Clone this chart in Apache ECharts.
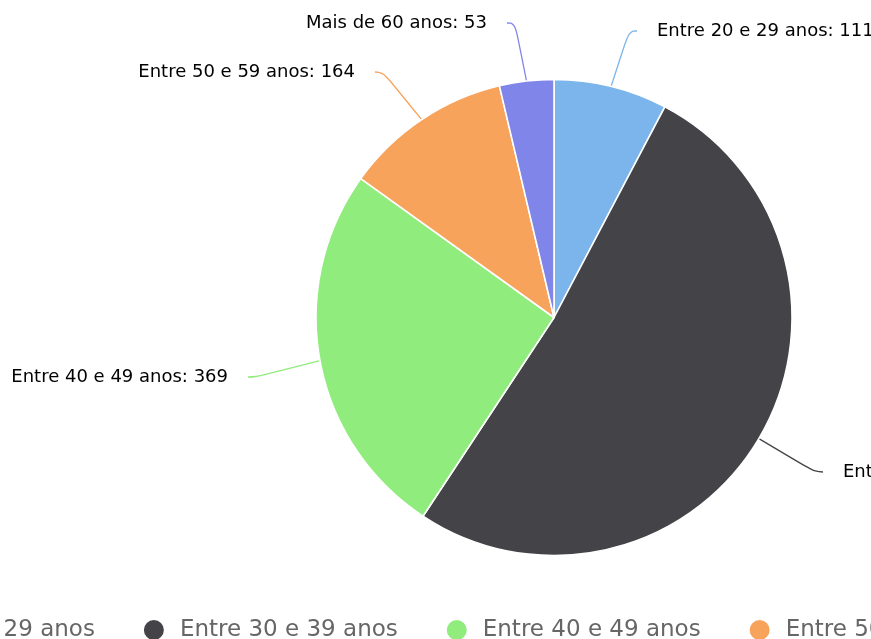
<!DOCTYPE html>
<html>
<head>
<meta charset="utf-8">
<script src="https://cdn.jsdelivr.net/npm/echarts@6/dist/echarts.min.js"></script>
<style>
html, body { margin: 0; padding: 0; overflow: hidden; background: #fff; }
#wrap { width: 871px; height: 639px; position: relative; overflow: hidden; }
/* the chart is wider than the window, shifted left like the original crop */
#faixas { position: absolute; left: -300px; top: 0; width: 1800px; height: 639px; }
</style>
</head>
<body>
<div id="wrap"><div id="faixas"></div></div>
<script>
var faixas = ['Entre 20 e 29 anos', 'Entre 30 e 39 anos', 'Entre 40 e 49 anos', 'Entre 50 e 59 anos', 'Mais de 60 anos'];
var totais = [111, 742, 369, 164, 53];
var cores = ['#7cb5ec', '#434348', '#90ed7d', '#f7a35c', '#8085e9'];

// label anchor spots, in px of the shifted div
var rotulos = [
	{x: 937, y: 31, align: 'left'},
	{x: 1123, y: 472, align: 'left'},
	{x: 548, y: 377, align: 'right'},
	{x: 675, y: 72, align: 'right'},
	{x: 807, y: 23, align: 'right'}
];

var chart = echarts.init(document.getElementById('faixas'));

var dados = faixas.map(function (nome, i) {
	return {name: nome, value: totais[i]};
});

var option = {
	animation: false,
	color: cores,
	legend: {
		left: 134,
		top: 613,
		icon: 'circle',
		itemWidth: 22,
		itemHeight: 22,
		itemGap: 47,
		textStyle: {
			fontSize: 23,
			color: '#666',
			fontFamily: 'DejaVu Sans',
			padding: [0, 0, 0, 10]
		},
		data: faixas
	},
	series: [
		{
			type: 'pie',
			center: [854, 317.5],
			radius: 238,
			startAngle: 90,
			clockwise: true,
			avoidLabelOverlap: false,
			itemStyle: {
				borderColor: '#fff',
				borderWidth: 1.6
			},
			label: {
				formatter: '{b}: {c}',
				fontSize: 18,
				color: '#000',
				fontFamily: 'DejaVu Sans',
				backgroundColor: 'transparent', // keeps the padding in the box, so the line stops short
				padding: [0, 20]
			},
			labelLine: {
				show: true,
				length: 15,
				length2: 8,
				smooth: 0.5,
				lineStyle: {width: 1.3}
			},
			labelLayout: function (p) {
				var r = rotulos[p.dataIndex];
				return {x: r.x, y: r.y, align: r.align, verticalAlign: 'middle'};
			},
			emphasis: {scale: false},
			data: dados
		}
	]
};

chart.setOption(option);
window.addEventListener('resize', chart.resize);
</script>
</body>
</html>
